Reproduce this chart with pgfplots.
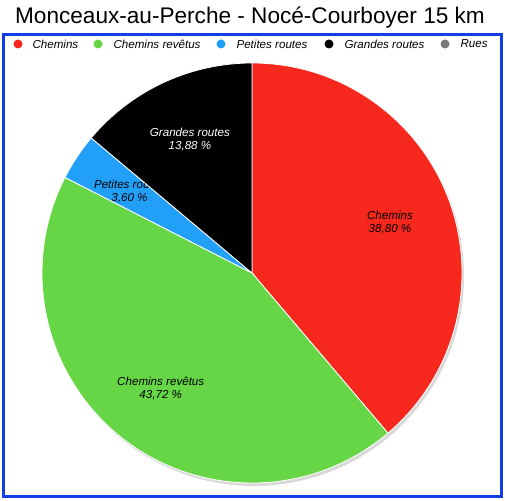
\documentclass[border=0pt]{standalone}
\usepackage{fontspec}
\setmainfont{Liberation Sans}
\usepackage{pgfplots}
\usepackage{pgfplotstable}
\pgfplotsset{compat=1.18}
\usetikzlibrary{shadows}

\definecolor{cred}{RGB}{246,40,30}
\definecolor{cgreen}{RGB}{102,214,70}
\definecolor{cblue}{RGB}{34,160,248}
\definecolor{cblack}{RGB}{0,0,0}
\definecolor{cgray}{RGB}{120,120,120}
\definecolor{frame}{RGB}{18,62,232}

% share of each kind of way (%)
\pgfplotstableread[col sep=comma]{
name,value,color,tcol
Chemins,38.80,cred,black
Chemins revêtus,43.72,cgreen,black
Petites routes,3.60,cblue,black
Grandes routes,13.88,cblack,white
Rues,0,cgray,black
}\piedata

\begin{document}
\begin{tikzpicture}[x=1pt,y=1pt]
\path[use as bounding box] (0,0) rectangle (505,500);
\node[font=\fontsize{22.6}{26}\selectfont] at (250,482) {Monceaux-au-Perche - Nocé-Courboyer 15 km};
\draw[frame, line width=3pt] (3.5,3.5) rectangle (501.5,465);

% legend
\begin{scope}[font=\itshape\fontsize{11.6}{13}\selectfont]
\fill[cred]   (18,456) circle[radius=4.5];  \node[anchor=west] at (29,456) {Chemins};
\fill[cgreen] (98,456) circle[radius=4.5];  \node[anchor=west] at (110,456) {Chemins revêtus};
\fill[cblue]  (221,456) circle[radius=4.5]; \node[anchor=west] at (233,456) {Petites routes};
\fill[cblack] (329,456) circle[radius=4.5]; \node[anchor=west] at (341,456) {Grandes routes};
\fill[cgray]  (445,456) circle[radius=4.5]; \node[anchor=west] at (457,456) {Rues};
\end{scope}

\begin{axis}[
    at={(252pt,227pt)}, anchor=center,
    width=420pt, height=420pt, scale only axis,
    xmin=-1, xmax=1, ymin=-1, ymax=1,
    hide axis, clip=false,
    ]
\addplot[draw=none] coordinates {(0,0)};
\fill[white, drop shadow={shadow xshift=2pt, shadow yshift=-3pt, opacity=0.3}]
    (axis cs:0,0) circle[radius=210pt];
\pgfplotstablegetrowsof{\piedata}
\pgfmathtruncatemacro\nrows{\pgfplotsretval-1}
\def\angstart{90}
\pgfplotsforeachungrouped \i in {0,...,\nrows}{
    \pgfplotstablegetelem{\i}{value}\of\piedata \let\val\pgfplotsretval
    \pgfplotstablegetelem{\i}{color}\of\piedata \let\col\pgfplotsretval
    \pgfplotstablegetelem{\i}{tcol}\of\piedata \let\tcol\pgfplotsretval
    \pgfplotstablegetelem{\i}{name}\of\piedata \let\nm\pgfplotsretval
    \pgfmathsetmacro\angend{\angstart-3.6*\val}
    \pgfmathsetmacro\angmid{(\angstart+\angend)/2}
    \pgfmathsetmacro\lx{0.7*cos(\angmid)}
    \pgfmathsetmacro\ly{0.7*sin(\angmid)}
    \pgfmathsetmacro\sx{cos(\angstart)}
    \pgfmathsetmacro\sy{sin(\angstart)}
    \ifdim\val pt>0pt
    \edef\temp{\noexpand\fill[\col, draw=white, line width=0.8pt]
        (axis cs:0,0) -- (axis cs:\sx,\sy)
        arc[start angle=\angstart, end angle=\angend, radius=210pt] -- cycle;}
    \temp
    \edef\temp{\noexpand\node[align=center, text=\tcol,
        font=\noexpand\itshape\noexpand\fontsize{11.6}{13}\noexpand\selectfont]
        at (axis cs:\lx,\ly) {\nm\noexpand\\\noexpand\pgfmathprintnumber[fixed,precision=2,fixed zerofill,use comma,assume math mode=true]{\val}~\noexpand\%};}
    \temp
    \fi
    \global\let\angstart\angend
}
\end{axis}
\end{tikzpicture}
\end{document}
